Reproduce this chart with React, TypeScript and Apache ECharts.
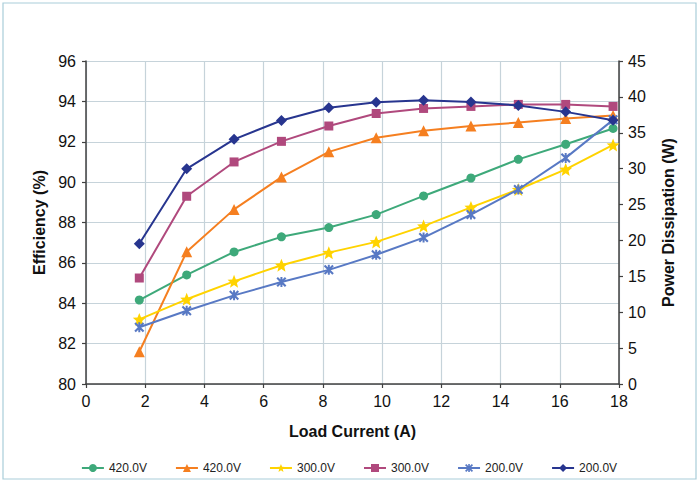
import React, { useEffect, useRef } from "react";
import * as echarts from "echarts";

const loadCurrent = [1.8, 3.4, 5.0, 6.6, 8.2, 9.8, 11.4, 13.0, 14.6, 16.2, 17.8];
const pd420 = [11.7, 15.2, 18.4, 20.5, 21.8, 23.6, 26.2, 28.7, 31.3, 33.4, 35.6];
const eff420 = [81.6, 86.55, 88.65, 90.25, 91.5, 92.2, 92.55, 92.78, 92.95, 93.15, 93.3];
const pd300 = [9.0, 11.8, 14.3, 16.55, 18.3, 19.8, 22.0, 24.6, 27.1, 29.9, 33.3];
const eff300 = [85.25, 89.3, 91.0, 92.02, 92.78, 93.4, 93.65, 93.75, 93.85, 93.85, 93.75];
const pd200 = [7.9, 10.2, 12.35, 14.2, 15.9, 18.0, 20.4, 23.6, 27.1, 31.5, 36.8];
const eff200 = [86.95, 90.66, 92.12, 93.05, 93.68, 93.96, 94.05, 93.97, 93.8, 93.48, 93.07];

const seriesNames = ["420.0V", "420.0V", "300.0V", "300.0V", "200.0V", "200.0V"];
const seriesKeys = ["pd", "eff", "pd", "eff", "pd", "eff"];

const FONT = '"Liberation Sans", Arial, Helvetica, sans-serif';
const AXIS_COLOR = "#404040";
const GRID_COLOR = "#c6d3da";

const xShape =
  "path://M1.5,0 L5,3.5 L8.5,0 L10,1.5 L6.5,5 L10,8.5 L8.5,10 L5,6.5 L1.5,10 L0,8.5 L3.5,5 L0,1.5 Z M4,0 L6,0 L6,10 L4,10 Z";
const starShape =
  "path://M5,0 L6.4,3.4 L10,3.6 L7.2,5.9 L8.1,9.5 L5,7.5 L1.9,9.5 L2.8,5.9 L0,3.6 L3.6,3.4 Z";

function pairs(xs: number[], ys: number[]) {
  return xs.map((x, i) => [x, ys[i]]);
}

export default function App() {
  const ref = useRef<HTMLDivElement>(null);
  useEffect(() => {
    if (!ref.current) return;
    const chart = echarts.init(ref.current, undefined, { renderer: "svg" });
    const idName = (i: number) => seriesNames[i] + "|" + seriesKeys[i];
    const mk = (
      idx: number,
      color: string,
      symbol: string,
      size: number,
      data: number[],
      yAxisIndex: number
    ) => ({
      type: "line",
      name: idName(idx),
      yAxisIndex,
      data: pairs(loadCurrent, data),
      symbol,
      symbolSize: size,
      showAllSymbol: true,
      color,
      lineStyle: { color, width: 2 },
      itemStyle: { color, borderWidth: 0 },
      z: 2 + idx,
    });
    chart.setOption({
      animation: false,
      backgroundColor: "#ffffff",
      textStyle: { fontFamily: FONT },
      grid: { left: 86, right: 79, top: 61, bottom: 97, containLabel: false },
      graphic: [
        {
          type: "rect",
          shape: { x: 3, y: 3, width: 693, height: 476 },
          style: { fill: "none", stroke: "#a9cdd9", lineWidth: 1.2 },
          silent: true,
          z: -1,
        },
      ],
      legend: {
        top: 457,
        left: "center",
        itemWidth: 22,
        itemHeight: 10,
        itemGap: 28,
        formatter: (name: string) => name.split("|")[0],
        textStyle: { fontSize: 12, color: "#222", fontFamily: FONT },
        data: [0, 1, 2, 3, 4, 5].map((i) => ({ name: idName(i) })),
      },
      xAxis: {
        type: "value",
        min: 0,
        max: 18,
        interval: 2,
        name: "Load Current (A)",
        nameLocation: "middle",
        nameGap: 39,
        nameTextStyle: { fontSize: 16, fontWeight: "bold", color: "#111", fontFamily: FONT },
        axisLine: { show: true, onZero: false, lineStyle: { color: AXIS_COLOR, width: 1.5 } },
        axisTick: { show: true, inside: false, length: 4, lineStyle: { color: AXIS_COLOR, width: 1.2 } },
        axisLabel: { fontSize: 16, color: "#111", margin: 9, fontFamily: FONT },
        splitLine: { show: true, lineStyle: { color: GRID_COLOR, width: 1.2 } },
      },
      yAxis: [
        {
          type: "value",
          position: "left",
          min: 80,
          max: 96,
          interval: 2,
          name: "Efficiency (%)",
          nameLocation: "middle",
          nameRotate: 90,
          nameGap: 33,
          nameTextStyle: { fontSize: 16, fontWeight: "bold", color: "#111", fontFamily: FONT },
          axisLine: { show: true, lineStyle: { color: AXIS_COLOR, width: 1.5 } },
          axisTick: { show: true, inside: false, length: 4, lineStyle: { color: AXIS_COLOR, width: 1.2 } },
          axisLabel: { fontSize: 16, color: "#111", margin: 10, fontFamily: FONT },
          splitLine: { show: true, lineStyle: { color: GRID_COLOR, width: 1.2 } },
        },
        {
          type: "value",
          position: "right",
          min: 0,
          max: 45,
          interval: 5,
          name: "Power Dissipation (W)",
          nameLocation: "middle",
          nameRotate: 90,
          nameGap: 41,
          nameTextStyle: { fontSize: 16, fontWeight: "bold", color: "#111", fontFamily: FONT },
          axisLine: { show: true, lineStyle: { color: AXIS_COLOR, width: 1.5 } },
          axisTick: { show: true, inside: false, length: 4, lineStyle: { color: AXIS_COLOR, width: 1.2 } },
          axisLabel: { fontSize: 16, color: "#111", margin: 9, fontFamily: FONT },
          splitLine: { show: false },
        },
      ],
      series: [
        mk(0, "#3ea97a", "circle", 9, pd420, 1),
        mk(1, "#f57f20", "triangle", 11, eff420, 0),
        mk(2, "#ffd300", starShape, 13, pd300, 1),
        mk(3, "#b0497d", "rect", 9, eff300, 0),
        mk(4, "#5879c4", xShape, 10, pd200, 1),
        mk(5, "#27358f", "diamond", 11, eff200, 0),
      ],
    });
    return () => chart.dispose();
  }, []);
  return (
    <div
      ref={ref}
      style={{ position: "absolute", left: 0, top: 0, width: 698, height: 481 }}
    />
  );
}
